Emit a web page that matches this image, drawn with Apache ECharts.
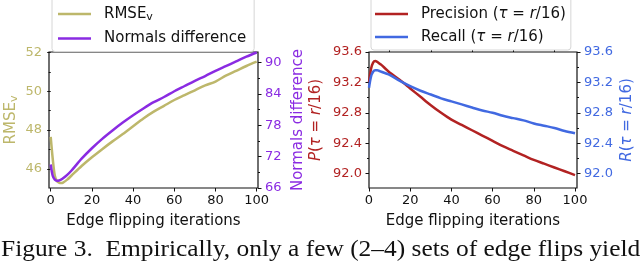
<!DOCTYPE html>
<html><head><meta charset="utf-8">
<script src="https://cdn.jsdelivr.net/npm/echarts@6/dist/echarts.min.js"></script>
<style>html,body{margin:0;padding:0;background:#fff}#c{width:640px;height:265px}</style>
</head><body><div id="c"></div>
<script>
// ---- data ----
const iterations = [0,1,2,3,4,5,6,8,10,15,20,25,30,35,40,45,50,55,60,65,70,75,80,85,90,95,100];
const rmseV      = [47.65,46.5,45.65,45.38,45.3,45.28,45.3,45.45,45.65,46.15,46.6,47.02,47.42,47.8,48.2,48.6,48.95,49.25,49.55,49.8,50.05,50.3,50.5,50.8,51.05,51.3,51.52];
const normalsDiff= [70.5,68.3,67.6,67.4,67.45,67.6,67.85,68.5,69.3,71.6,73.6,75.4,77.0,78.5,79.9,81.2,82.4,83.4,84.5,85.5,86.5,87.4,88.4,89.3,90.2,91.1,91.9];
const precision  = [93.2,93.38,93.46,93.48,93.47,93.45,93.43,93.38,93.33,93.23,93.12,93.01,92.9,92.8,92.71,92.64,92.57,92.5,92.43,92.36,92.3,92.24,92.18,92.13,92.08,92.03,91.98];
const recall     = [93.13,93.28,93.34,93.36,93.36,93.35,93.34,93.32,93.3,93.22,93.15,93.09,93.04,92.99,92.95,92.91,92.87,92.83,92.8,92.76,92.73,92.7,92.66,92.63,92.6,92.56,92.53];

const xTicks = [0,20,40,60,80,100];
const xMinor = [10,30,50,70,90];
const rmseTicks = [46,48,50,52];
const rmseMinor = [45,47,49,51];
const normalsTicks = [66,72,78,84,90];
const normalsMinor = [69,75,81,87];
const prTicks = [92.0,92.4,92.8,93.2,93.6];
const prMinor = [91.8,92.2,92.6,93.0,93.4];

const seriesNames = ['RMSE_v','Normals difference','Precision (τ = r/16)','Recall (τ = r/16)'];
const xTitle = 'Edge flipping iterations';
const caption = 'Figure 3.  Empirically, only a few (2–4) sets of edge flips yield';

// ---- styles ----
const C_KHAKI = '#BDB76B', C_PURPLE = '#8A2BE2', C_RED = '#B22222', C_BLUE = '#4169E1';
const FONT = 'DejaVu Sans';
const TICK_FS = 13, TITLE_FS = 15;

function zip(xs, ys){ return xs.map((x,i)=>[x, ys[i]]); }

function xAxes(grid, min, max){
  return [{
    type:'value', gridIndex:grid, min:min, max:max,
    axisLine:{show:false}, splitLine:{show:false},
    axisTick:{show:true, customValues:xTicks, length:3.5, lineStyle:{color:'#111', width:1}},
    axisLabel:{show:true, customValues:xTicks, fontSize:TICK_FS, fontFamily:FONT, color:'#111', margin:6},
    name:xTitle, nameLocation:'middle', nameGap:26,
    nameTextStyle:{fontSize:TITLE_FS, fontFamily:FONT, color:'#111'}
  },{
    type:'value', gridIndex:grid, min:min, max:max,
    axisLine:{show:false}, splitLine:{show:false},
    axisTick:{show:true, customValues:xMinor, length:2, lineStyle:{color:'#111', width:1}},
    axisLabel:{show:false}
  }];
}
function yAxes(grid, pos, min, max, ticks, minor, color, fmt, name, gap, rich){
  return [{
    type:'value', gridIndex:grid, position:pos, min:min, max:max,
    axisLine:{show:false}, splitLine:{show:false},
    axisTick:{show:true, customValues:ticks, length:3.5, lineStyle:{color:'#111', width:1}},
    axisLabel:{show:true, customValues:ticks, fontSize:TICK_FS, fontFamily:FONT, color:color, margin:7, formatter:fmt},
    name:name, nameLocation:'middle', nameRotate:90, nameGap:gap,
    nameTextStyle:{fontSize:TITLE_FS, fontFamily:FONT, color:color, rich:rich}
  },{
    type:'value', gridIndex:grid, position:pos, min:min, max:max,
    axisLine:{show:false}, splitLine:{show:false},
    axisTick:{show:true, customValues:minor, length:2, lineStyle:{color:'#111', width:1}},
    axisLabel:{show:false}
  }];
}
const fmtInt = v => String(Math.round(v));
const fmt1 = v => v.toFixed(1);

const richName = (color) => ({
  sub:{fontSize:11, fontFamily:FONT, color:color, padding:[7,0,0,0]},
  i:{fontSize:TITLE_FS, fontFamily:FONT, fontStyle:'italic', color:color}
});

const legendBase = {
  orient:'vertical', icon:'rect', itemWidth:33, itemHeight:2.5, itemGap:8,
  backgroundColor:'#fff', borderColor:'#d6d6d6', borderWidth:1, borderRadius:3,
  textStyle:{fontSize:TITLE_FS, fontFamily:FONT, color:'#111', lineHeight:15, padding:[0,0,0,8],
    rich:{sub:{fontSize:11, fontFamily:FONT, color:'#111', padding:[7,0,0,0]},
          i:{fontSize:TITLE_FS, fontFamily:FONT, fontStyle:'italic', color:'#111'}}},
  formatter: n => {
    if (n === 'RMSE_v') return 'RMSE{sub|v}';
    return n.replace('τ','{i|τ}').replace('r/','{i|r}/');
  }
};

const option = {
  animation:false,
  backgroundColor:'#fff',
  grid:[
    {left:49, top:52, width:209, height:136, show:true, borderColor:'#111', borderWidth:1.2, backgroundColor:'transparent'},
    {left:369, top:52, width:208, height:136, show:true, borderColor:'#111', borderWidth:1.2, backgroundColor:'transparent'}
  ],
  legend:[
    Object.assign({}, legendBase, {data:[seriesNames[0], seriesNames[1]], left:52, top:-3, padding:[9.5,8,5.5,6]}),
    Object.assign({}, legendBase, {data:[seriesNames[2], seriesNames[3]], left:371, top:-3, padding:[9.5,5,5.5,4]})
  ],
  xAxis:[].concat(xAxes(0,-0.83,100.63), xAxes(1,0,100.97)),
  yAxis:[].concat(
    yAxes(0,'left',45.02,52.02,rmseTicks,rmseMinor,C_KHAKI,fmtInt,'RMSE{sub|v}',29,richName(C_KHAKI)),
    yAxes(0,'right',66,92,normalsTicks,normalsMinor,C_PURPLE,fmtInt,'Normals difference',33,richName(C_PURPLE)),
    yAxes(1,'left',91.81,93.6,prTicks,prMinor,C_RED,fmt1,'{i|P}({i|τ} = {i|r}/16)',45,richName(C_RED)),
    yAxes(1,'right',91.81,93.6,prTicks,prMinor,C_BLUE,fmt1,'{i|R}({i|τ} = {i|r}/16)',43,richName(C_BLUE))
  ),
  series:[
    {name:seriesNames[0], type:'line', xAxisIndex:0, yAxisIndex:0, data:zip(iterations,rmseV), showSymbol:false, smooth:0.3, color:C_KHAKI, lineStyle:{width:2.5, color:C_KHAKI}, z:2},
    {name:seriesNames[1], type:'line', xAxisIndex:0, yAxisIndex:2, data:zip(iterations,normalsDiff), showSymbol:false, smooth:0.3, color:C_PURPLE, lineStyle:{width:2.5, color:C_PURPLE}, z:3},
    {name:seriesNames[2], type:'line', xAxisIndex:2, yAxisIndex:4, data:zip(iterations,precision), showSymbol:false, smooth:0.3, color:C_RED, lineStyle:{width:2.5, color:C_RED}, z:2},
    {name:seriesNames[3], type:'line', xAxisIndex:2, yAxisIndex:6, data:zip(iterations,recall), showSymbol:false, smooth:0.3, color:C_BLUE, lineStyle:{width:2.5, color:C_BLUE}, z:3}
  ],
  graphic:[{
    type:'text', x:1, y:250, scaleX:1.105, scaleY:1,
    style:{text:caption, font:'23px "Liberation Serif"', fill:'#111', textVerticalAlign:'middle', verticalAlign:'middle'}
  }]
};
const chart = echarts.init(document.getElementById('c'), null, {renderer:'canvas'});
chart.setOption(option);
</script></body></html>
